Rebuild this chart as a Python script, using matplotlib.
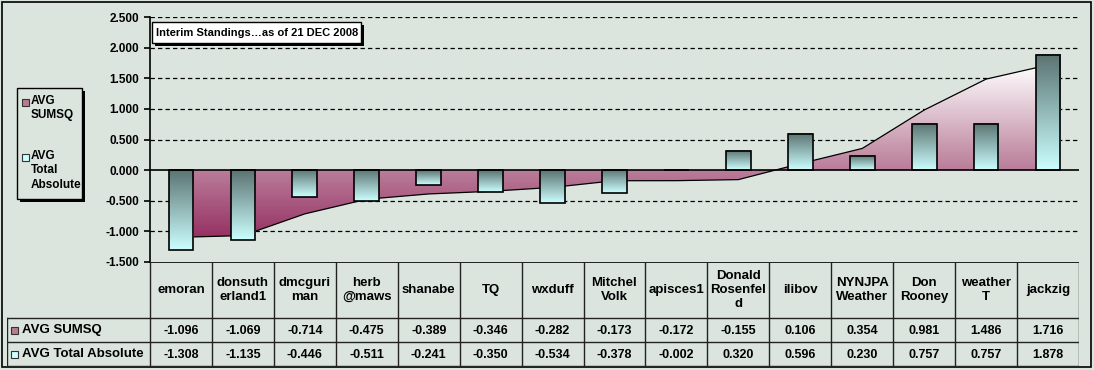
import numpy as np
import matplotlib
matplotlib.use("Agg")
import matplotlib.pyplot as plt
from matplotlib.colors import LinearSegmentedColormap
from matplotlib.patches import Rectangle, Polygon

names = ["emoran", "donsuth\nerland1", "dmcguri\nman", "herb\n@maws", "shanabe", "TQ",
         "wxduff", "Mitchel\nVolk", "apisces1", "Donald\nRosenfel\nd", "ilibov",
         "NYNJPA\nWeather", "Don\nRooney", "weather\nT", "jackzig"]
avg_sumsq = [-1.096, -1.069, -0.714, -0.475, -0.389, -0.346, -0.282, -0.173,
             -0.172, -0.155, 0.106, 0.354, 0.981, 1.486, 1.716]
avg_total_abs = [-1.308, -1.135, -0.446, -0.511, -0.241, -0.350, -0.534, -0.378,
                 -0.002, 0.320, 0.596, 0.230, 0.757, 0.757, 1.878]
yticks = [-1.5, -1.0, -0.5, 0.0, 0.5, 1.0, 1.5, 2.0, 2.5]

plt.rcParams["font.family"] = ["Liberation Sans", "DejaVu Sans"]
plt.rcParams["font.weight"] = "bold"

W, H = 1094, 370
bg = "#dbe5de"
fig = plt.figure(figsize=(W / 100, H / 100), dpi=100, facecolor=bg)

px_left, px_right, px_top, px_bot = 150, 1079, 17, 262
ax = fig.add_axes([px_left / W, 1 - px_bot / H, (px_right - px_left) / W, (px_bot - px_top) / H])
ax.set_facecolor("none")
x = np.arange(len(names))

# grid
for t in yticks:
    if t not in (0.0, -1.5):
        ax.axhline(t, color="black", lw=0.9, ls=(0, (3.5, 2.5)), zorder=0)

# area with vertical gradient
area_cmap = LinearSegmentedColormap.from_list("area", ["#963263", "#c593aa", "#ffffff"])
poly = Polygon(np.column_stack([np.r_[x, x[::-1]], np.r_[avg_sumsq, np.zeros(len(x))]]),
               closed=True, facecolor="none", edgecolor="none")
ax.add_patch(poly)
grad = np.linspace(0, 1, 256).reshape(-1, 1)
im = ax.imshow(grad, cmap=area_cmap, origin="lower", aspect="auto",
               extent=[x[0], x[-1], min(avg_sumsq), max(avg_sumsq)], zorder=1)
im.set_clip_path(poly)
ax.plot(x, avg_sumsq, color="black", lw=0.9, zorder=2)

# bars with gradient
bar_cmap = LinearSegmentedColormap.from_list("bar", ["#ccffff", "#5a7371"])
bw = 0.4
for xi, v in zip(x, avg_total_abs):
    lo, hi = min(0, v), max(0, v)
    ax.imshow(grad, cmap=bar_cmap, origin="lower", aspect="auto",
              extent=[xi - bw / 2, xi + bw / 2, lo, hi], zorder=3)
    ax.add_patch(Rectangle((xi - bw / 2, lo), bw, hi - lo, fill=False,
                           edgecolor="black", lw=1.2, zorder=4))
ax.set_xlim(-0.5, 14.5)
ax.set_ylim(-1.5, 2.5)

ax.axhline(0, color="black", lw=1.2, zorder=5)
for s in ["top", "right", "bottom"]:
    ax.spines[s].set_visible(False)
ax.spines["left"].set_linewidth(1.2)
ax.set_xticks([])
ax.set_yticks(yticks)
ax.set_yticklabels([f"{t:.3f}" for t in yticks], fontsize=8.5, fontweight="bold")
ax.tick_params(axis="y", direction="out", length=4, width=1.2, pad=4)

# data table, same x scale as the chart
unit = (px_right - px_left) / 15
tab_left = 7
tx0 = -0.5 - (px_left - tab_left) / unit
tab = fig.add_axes([tab_left / W, 1 - 366 / H, (px_right - tab_left) / W, (366 - px_bot) / H])
tab.set_xlim(tx0, 14.5)
tab.set_ylim(104, 0)
tab.axis("off")
lc = "#222222"
tab.plot([-0.5, 14.5], [0, 0], color="black", lw=1.2)
for yy in (56, 80, 103.5):
    tab.plot([tx0, 14.5], [yy, yy], color=lc, lw=1)
for i in range(16):
    tab.plot([-0.5 + i, -0.5 + i], [0, 104], color=lc, lw=1)
tab.plot([tx0, tx0], [56, 104], color=lc, lw=1)
for xi, nm in zip(x, names):
    tab.text(xi, 28, nm, ha="center", va="center", fontsize=9.5, fontweight="bold",
             linespacing=1.2)
for xi, a, b in zip(x, avg_sumsq, avg_total_abs):
    tab.text(xi, 68.5, f"{a:.3f}", ha="center", va="center", fontsize=9, fontweight="bold")
    tab.text(xi, 92.5, f"{b:.3f}", ha="center", va="center", fontsize=9, fontweight="bold")

# overlay for legend, title box, frame
ov = fig.add_axes([0, 0, 1, 1], facecolor="none")
ov.set_xlim(0, W)
ov.set_ylim(H, 0)
ov.axis("off")
ov.add_patch(Rectangle((2, 2), W - 5, H - 5, fill=False, edgecolor="black", lw=1.2))

# row label keys
for yy, c, lab in [(330, "#b97a94", "AVG SUMSQ"), (354, "#ccffff", "AVG Total Absolute")]:
    ov.add_patch(Rectangle((11, yy - 3.5), 7, 7, facecolor=c, edgecolor="#333333", lw=0.8))
    ov.text(22, yy, lab, ha="left", va="center", fontsize=9.5, fontweight="bold")

# legend
ov.add_patch(Rectangle((20, 91), 65, 111, facecolor="black", edgecolor="none"))
ov.add_patch(Rectangle((17, 88), 65, 111, facecolor=bg, edgecolor="black", lw=1))
ov.add_patch(Rectangle((22, 98.5), 7, 7, facecolor="#b97a94", edgecolor="#333333", lw=0.8))
ov.text(31, 95, "AVG\nSUMSQ", ha="left", va="top", fontsize=8.5, fontweight="bold",
        linespacing=1.25)
ov.add_patch(Rectangle((22, 153.5), 7, 7, facecolor="#ccffff", edgecolor="#333333", lw=0.8))
ov.text(31, 150, "AVG\nTotal\nAbsolute", ha="left", va="top", fontsize=8.5,
        fontweight="bold", linespacing=1.25)

# title box
ov.add_patch(Rectangle((155, 25), 209, 21, facecolor="black", edgecolor="none"))
ov.add_patch(Rectangle((152, 22), 209, 21, facecolor="white", edgecolor="black", lw=1))
ov.text(156, 32.5, "Interim Standings\u2026as of 21 DEC 2008", ha="left", va="center",
        fontsize=8, fontweight="bold")

fig.savefig("out.png", dpi=100, facecolor=bg)
